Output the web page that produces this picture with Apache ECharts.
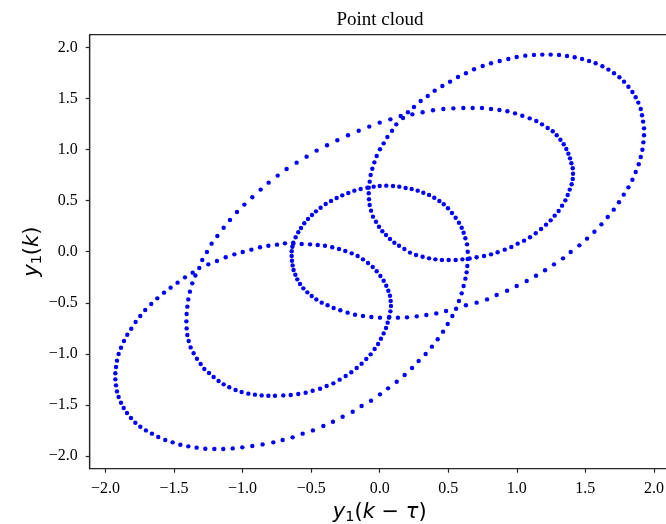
<!DOCTYPE html>
<html><head><meta charset="utf-8">
<script src="https://cdn.jsdelivr.net/npm/echarts@6/dist/echarts.min.js"></script>
<style>html,body{margin:0;padding:0;overflow:hidden;background:#fff}#c{width:760px;height:524px}</style>
</head><body><div id="c"></div>
<script>
const xTicks=[-2,-1.5,-1,-0.5,0,0.5,1,1.5,2];
const yTicks=[-2,-1.5,-1,-0.5,0,0.5,1,1.5,2];

const outerUpper=[[-1.184,0.154],[-1.138,0.235],[-1.092,0.310],[-1.041,0.389],[-0.987,0.461],[-0.929,0.533],[-0.868,0.608],[-0.810,0.676],[-0.744,0.745],[-0.679,0.810],[-0.606,0.872],[-0.533,0.931],[-0.460,0.990],[-0.384,1.042],[-0.309,1.091],[-0.231,1.140],[-0.153,1.185],[-0.076,1.225],[0.000,1.264],[0.078,1.296],[0.153,1.329],[0.206,1.365],[0.250,1.417],[0.299,1.476],[0.350,1.525],[0.401,1.577],[0.457,1.623],[0.513,1.665],[0.571,1.711],[0.629,1.747],
[0.688,1.786],[0.751,1.819],[0.812,1.845],[0.875,1.868],[0.938,1.887],[0.999,1.907],[1.062,1.920],[1.125,1.927],[1.186,1.930],[1.247,1.930],[1.308,1.927],[1.366,1.917],[1.422,1.904],[1.476,1.887],[1.527,1.868],[1.575,1.845],[1.624,1.816],[1.668,1.783],[1.709,1.747],[1.748,1.708],[1.782,1.665],[1.814,1.616],[1.843,1.564],[1.867,1.512],[1.886,1.460],[1.904,1.398],[1.913,1.336],[1.921,1.274],[1.928,1.208],[1.928,1.140],[1.923,1.071],[1.916,0.999],[1.904,0.928],[1.889,0.856],[1.867,0.781],[1.843,0.705],[1.814,0.630],[1.780,0.559],[1.745,0.484],[1.707,0.412],[1.663,0.340],[1.617,0.268],[1.566,0.196],[1.512,0.128],[1.456,0.062],
[1.393,-0.003],[1.337,-0.065],[1.271,-0.124],[1.206,-0.182],[1.140,-0.235],[1.072,-0.287],[0.999,-0.336],[0.929,-0.382],[0.853,-0.424],[0.783,-0.467],[0.707,-0.499]];

const middleLoop=[[0.629,-0.525],[0.557,-0.558],[0.484,-0.581],[0.413,-0.604],[0.340,-0.620],[0.270,-0.633],[0.199,-0.643],[0.133,-0.646],[0.068,-0.646],[0.002,-0.646],[-0.061,-0.640],[-0.122,-0.630],[-0.180,-0.617],[-0.234,-0.597],[-0.287,-0.574],[-0.336,-0.551],[-0.380,-0.525],[-0.423,-0.499],[-0.462,-0.467],[-0.496,-0.434],[-0.528,-0.398],[-0.557,-0.359],[-0.581,-0.316],[-0.601,-0.271],[-0.615,-0.225],[-0.628,-0.179],[-0.635,-0.134],[-0.640,-0.088],[-0.642,-0.042],[-0.642,0.004],[-0.637,0.049],[-0.630,0.088],
[-0.613,0.141],[-0.594,0.190],[-0.574,0.232],[-0.550,0.278],[-0.523,0.320],[-0.494,0.359],[-0.465,0.395],[-0.431,0.431],[-0.394,0.467],[-0.355,0.497],[-0.314,0.526],[-0.273,0.552],[-0.229,0.575],[-0.185,0.598],[-0.139,0.614],[-0.090,0.627],[-0.044,0.637],[0.000,0.643],[0.048,0.647],[0.097,0.643],[0.143,0.637],[0.189,0.624],[0.233,0.614],[0.277,0.598],[0.318,0.578],[0.360,0.555],[0.398,0.529],[0.435,0.497],[0.467,0.464],[0.498,0.425],[0.527,0.379],[0.554,0.333],[0.578,0.284],[0.598,0.235],[0.612,0.186],[0.625,0.131],[0.637,0.072],
[0.642,0.000],[0.642,-0.072],[0.639,-0.140],[0.634,-0.202],[0.625,-0.264],[0.612,-0.336],[0.598,-0.408],[0.578,-0.483]];

const outerLower=[[0.530,-0.630],[0.496,-0.708],[0.462,-0.783],[0.423,-0.858],[0.381,-0.930],[0.335,-1.002],[0.284,-1.071],[0.236,-1.139],[0.182,-1.208],[0.124,-1.273],[0.061,-1.338],[0.002,-1.397],[-0.063,-1.459],[-0.132,-1.511],[-0.197,-1.567],[-0.270,-1.616],[-0.341,-1.665],[-0.411,-1.707],[-0.487,-1.750],[-0.562,-1.782],[-0.635,-1.818],[-0.708,-1.844],
[-0.776,-1.867],[-0.854,-1.887],[-0.929,-1.903],[-1.002,-1.916],[-1.072,-1.926],[-1.141,-1.932],[-1.206,-1.932],[-1.272,-1.929],[-1.335,-1.919],[-1.396,-1.906],[-1.454,-1.890],[-1.510,-1.867],[-1.564,-1.844],[-1.615,-1.815],[-1.661,-1.782],[-1.705,-1.750],[-1.746,-1.714],[-1.782,-1.675],[-1.814,-1.629],[-1.843,-1.580],[-1.867,-1.531],[-1.887,-1.479],[-1.904,-1.423],[-1.916,-1.368],[-1.923,-1.309],[-1.928,-1.250],[-1.928,-1.191],[-1.923,-1.129],[-1.916,-1.067],[-1.904,-1.002],[-1.887,-0.940],[-1.865,-0.875],[-1.841,-0.813],[-1.812,-0.754],[-1.780,-0.689],[-1.746,-0.630],[-1.710,-0.571],[-1.666,-0.512],[-1.622,-0.457],[-1.573,-0.401],[-1.525,-0.352],[-1.474,-0.303],[-1.420,-0.251],[-1.364,-0.205]];

const lowerLeftLoop=[[-1.250,-0.124],[-1.187,-0.091],[-1.123,-0.055],[-1.060,-0.026],[-0.999,-0.003],[-0.936,0.020],[-0.873,0.043],[-0.812,0.059],[-0.749,0.069],[-0.691,0.082],[-0.630,0.078],[-0.569,0.075],[-0.508,0.072],[-0.452,0.066],[-0.399,0.059],[-0.346,0.043],[-0.297,0.026],[-0.251,0.007],[-0.204,-0.016],[-0.161,-0.042],[-0.122,-0.075],[-0.085,-0.111],[-0.051,-0.150],[-0.022,-0.192],[0.005,-0.238],[0.029,-0.284],[0.048,-0.333],[0.063,-0.382],[0.075,-0.431],[0.080,-0.483],[0.082,-0.532],[0.078,-0.584],[0.070,-0.640],[0.058,-0.695],[0.046,-0.747],[0.029,-0.800],[0.009,-0.852],[-0.012,-0.904],[-0.037,-0.953],[-0.066,-1.005],[-0.098,-1.051],[-0.132,-1.097],[-0.168,-1.139],[-0.207,-1.181],[-0.248,-1.217],[-0.292,-1.253],[-0.338,-1.289],[-0.387,-1.315],[-0.435,-1.342],[-0.489,-1.361],[-0.540,-1.381],[-0.594,-1.394],[-0.649,-1.404],[-0.703,-1.407],[-0.764,-1.410],[-0.812,-1.410],[-0.861,-1.407],[-0.910,-1.400],[-0.958,-1.390],[-1.007,-1.374],[-1.051,-1.355],[-1.097,-1.328],[-1.138,-1.299],[-1.175,-1.266],[-1.211,-1.227],[-1.245,-1.188],[-1.279,-1.149],[-1.306,-1.100],[-1.333,-1.048],[-1.357,-0.995],[-1.379,-0.937],[-1.393,-0.875],[-1.403,-0.816],[-1.408,-0.751],[-1.410,-0.682],[-1.408,-0.610],[-1.403,-0.538],[-1.396,-0.467],[-1.384,-0.391],[-1.367,-0.310],[-1.344,-0.233],[-1.316,-0.160],[-1.294,-0.081],[-1.260,-0.003],[-1.226,0.079]];

const upperRightLoop=[[0.678,1.407],[0.610,1.407],[0.537,1.404],[0.464,1.398],[0.389,1.385],[0.313,1.365],[0.238,1.345],[0.170,1.310],[0.121,1.247],[0.090,1.185],[0.056,1.123],[0.029,1.061],[0.002,1.003],[-0.022,0.937],[-0.039,0.875],[-0.054,0.813],[-0.066,0.751],[-0.073,0.686],[-0.080,0.627],[-0.080,0.572],[-0.078,0.513],[-0.073,0.457],[-0.063,0.402],[-0.049,0.343],[-0.027,0.294],[-0.005,0.245],[0.019,0.200],[0.046,0.164],[0.075,0.124],[0.107,0.088],[0.141,0.059],[0.180,0.026],
[0.221,-0.009],[0.265,-0.032],[0.313,-0.049],[0.360,-0.065],[0.406,-0.075],[0.454,-0.081],[0.503,-0.081],[0.554,-0.081],[0.603,-0.075],[0.656,-0.066],[0.707,-0.055],[0.761,-0.042],[0.812,-0.026],[0.860,-0.006],
[0.912,0.020],[0.960,0.046],[1.006,0.079],[1.053,0.108],[1.096,0.141],[1.138,0.180],[1.177,0.222],[1.213,0.265],[1.247,0.307],[1.276,0.353],[1.305,0.399],[1.330,0.451],[1.354,0.503],[1.371,0.555],[1.386,0.608],[1.400,0.660],[1.408,0.712],[1.410,0.764],[1.408,0.817],[1.398,0.866],[1.388,0.914],[1.376,0.960],[1.361,1.006],[1.342,1.052],[1.318,1.097],[1.291,1.140],[1.262,1.179],[1.225,1.212],[1.184,1.247],[1.142,1.280],[1.094,1.306],[1.040,1.332],[0.987,1.355],[0.931,1.375],[0.873,1.388],[0.812,1.398],[0.746,1.407]];

const chart=echarts.init(document.getElementById('c'),null,{renderer:'canvas'});
const fmt=v=>Number(v).toFixed(1).replace('-','\u2212');
const lineCol='#262626';
const nameRich={
  i:{fontFamily:'DejaVu Sans',fontStyle:'italic',fontSize:21,lineHeight:25,color:'#000'},
  n:{fontFamily:'DejaVu Sans',fontSize:21,lineHeight:25,color:'#000'},
  s:{fontFamily:'DejaVu Sans',fontSize:14.5,lineHeight:14.5,padding:[6,0,0,0],verticalAlign:'bottom',color:'#000'}
};
function axis(ticks,extra){
  return Object.assign({
    type:'value',
    splitLine:{show:false},
    axisLine:{show:true,onZero:false,lineStyle:{color:lineCol,width:1.2}},
    axisTick:{show:true,length:4,customValues:ticks,lineStyle:{color:lineCol,width:1.2}},
    axisLabel:{customValues:ticks,formatter:fmt,fontFamily:'Liberation Serif',fontSize:16,color:'#000'},
    nameLocation:'middle',
    nameMoveOverlap:false,
    nameTextStyle:{rich:nameRich}
  },extra);
}
const mk=d=>({type:'scatter',data:d,symbol:'circle',symbolSize:4.4,itemStyle:{color:'#0000ff',opacity:1},silent:true});
const xa=axis(xTicks,{min:-2.115,max:2.115,name:'{i|y}{s|1}{n|(}{i|k}{n| \u2212 }{i|\u03c4}{n|)}',nameGap:31});
xa.axisLabel.margin=12;
const ya=axis(yTicks,{min:-2.125,max:2.125,name:'{i|y}{s|1}{n|(}{i|k}{n|)}',nameGap:45,nameRotate:90});
ya.axisLabel.margin=12;
chart.setOption({
  animation:false,
  backgroundColor:'#fff',
  title:{text:'Point cloud',left:'center',top:6,textStyle:{fontFamily:'Liberation Serif',fontSize:19,fontWeight:'normal',color:'#000'}},
  grid:{left:89.7,top:34.7,width:580,height:434,containLabel:false,outerBoundsMode:'none',show:true,borderColor:lineCol,borderWidth:1.2,backgroundColor:'transparent'},
  xAxis:xa,
  yAxis:ya,
  series:[mk(outerUpper),mk(middleLoop),mk(outerLower),mk(lowerLeftLoop),mk(upperRightLoop)]
});
</script></body></html>
